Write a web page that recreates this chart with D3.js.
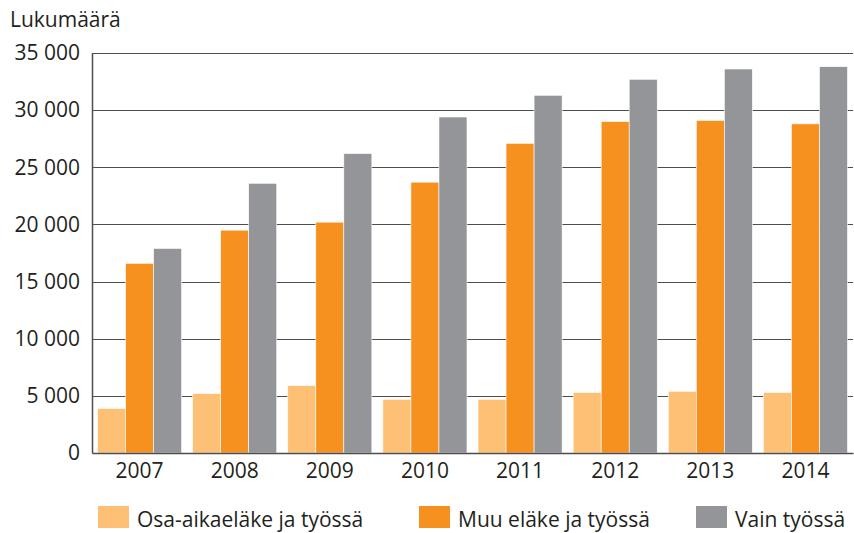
<!DOCTYPE html>
<html>
<head>
<meta charset="utf-8">
<title>Lukumäärä</title>
<script src="https://cdn.jsdelivr.net/npm/d3@7"></script>
<style>
  body { margin: 0; background: #fff; }
  text { font-family: "Open Sans", sans-serif; fill: #231f20; }
</style>
</head>
<body>
<script>
// data
var years = ["2007", "2008", "2009", "2010", "2011", "2012", "2013", "2014"];
var seriesNames = ["Osa-aikaeläke ja työssä", "Muu eläke ja työssä", "Vain työssä"];
var osaAika = [3900, 5200, 5900, 4700, 4700, 5300, 5400, 5300];
var muuElake = [16600, 19500, 20200, 23700, 27100, 29000, 29100, 28800];
var vainTyossa = [17900, 23600, 26200, 29400, 31300, 32700, 33600, 33800];
var yTicks = [0, 5000, 10000, 15000, 20000, 25000, 30000, 35000];
var colors = ["#fdc074", "#f6911f", "#939598"];

var w = 854, h = 533;
var margin = { left: 92, right: 1, top: 53, bottom: 80 };

var svg = d3.select("body").append("svg")
    .attr("width", w)
    .attr("height", h);

var x0 = d3.scaleBand()
    .domain(years)
    .range([margin.left, w - margin.right])
    .paddingInner(0.116)
    .paddingOuter(0.058);

var x1 = d3.scaleBand()
    .domain([0, 1, 2])
    .range([0, x0.bandwidth()]);

var y = d3.scaleLinear()
    .domain([0, 35000])
    .range([h - margin.bottom, margin.top]);

var fmt = function (v) { return d3.format(",")(v).replace(",", " "); };

// gridlines
svg.append("g").selectAll("line").data(yTicks.slice(1)).enter().append("line")
    .attr("x1", margin.left)
    .attr("x2", w - margin.right)
    .attr("y1", function (d) { return Math.round(y(d)) + 0.5; })
    .attr("y2", function (d) { return Math.round(y(d)) + 0.5; })
    .attr("stroke", "#4d4d4f")
    .attr("stroke-width", 1.2);

// bars
var table = years.map(function (yr, i) {
    return { year: yr, vals: [osaAika[i], muuElake[i], vainTyossa[i]] };
});

var groups = svg.append("g").selectAll("g").data(table).enter().append("g")
    .attr("transform", function (d) { return "translate(" + x0(d.year) + ",0)"; });

groups.selectAll("rect").data(function (d) { return d.vals; }).enter().append("rect")
    .attr("x", function (d, i) { return x1(i); })
    .attr("y", function (d) { return y(d); })
    .attr("width", x1.bandwidth())
    .attr("height", function (d) { return y(0) - y(d); })
    .attr("fill", function (d, i) { return colors[i]; })
    .attr("stroke", "#fff")
    .attr("stroke-width", 0.6);

// axes
var yAxis = svg.append("g")
    .attr("transform", "translate(" + margin.left + ",0)")
    .call(d3.axisLeft(y).tickValues(yTicks).tickFormat(fmt).tickSize(0).tickPadding(12));
yAxis.select(".domain").attr("stroke", "#4d4d4f").attr("stroke-width", 1.5);
yAxis.selectAll("text").attr("font-size", 21).attr("font-family", "Open Sans").attr("fill", "#231f20");

var xAxis = svg.append("g")
    .attr("transform", "translate(0," + y(0) + ")")
    .call(d3.axisBottom(x0).tickSize(0).tickPadding(10));
xAxis.select(".domain").attr("stroke", "#4d4d4f").attr("stroke-width", 1.5);
xAxis.selectAll("text").attr("font-size", 21).attr("font-family", "Open Sans").attr("fill", "#231f20");

// y title
svg.append("text")
    .attr("x", 10)
    .attr("y", 27)
    .attr("font-size", 21)
    .text("Lukumäärä");

// legend
var legendX = [98, 419, 696];
var legend = svg.append("g").selectAll("g").data(seriesNames).enter().append("g")
    .attr("transform", function (d, i) { return "translate(" + legendX[i] + ",506)"; });
legend.append("rect")
    .attr("width", 31)
    .attr("height", 22)
    .attr("fill", function (d, i) { return colors[i]; });
legend.append("text")
    .attr("x", 39)
    .attr("y", 21)
    .attr("font-size", 21)
    .text(function (d) { return d; });
</script>
</body>
</html>
